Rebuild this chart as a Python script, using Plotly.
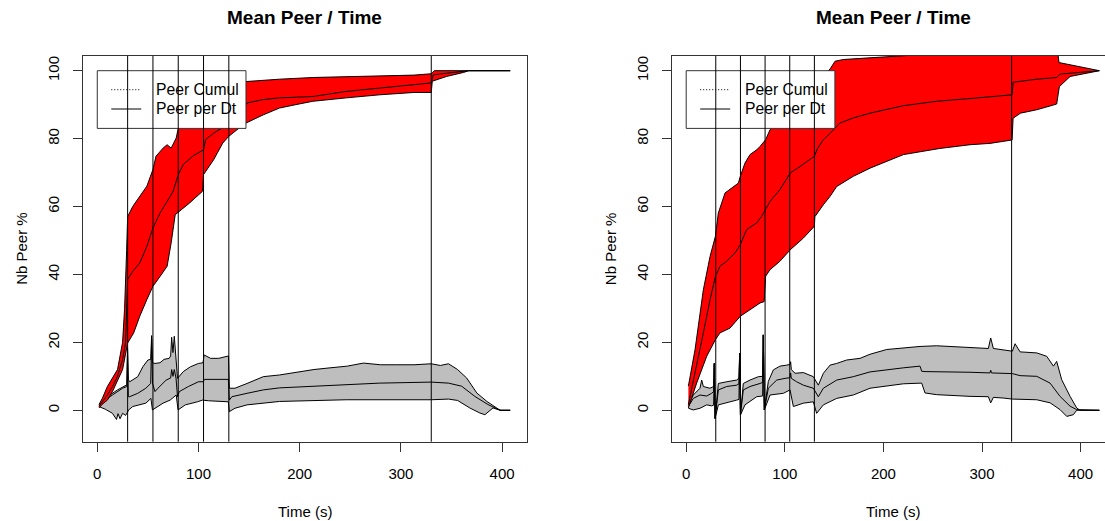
import plotly.graph_objects as go

# ---------------- data ----------------
VLINES = [30, 55, 80, 105, 130, 330]
X_TICKS = [0, 100, 200, 300, 400]
Y_TICKS = [0, 20, 40, 60, 80, 100]
LEGEND_LABELS = ["Peer Cumul", "Peer per Dt"]
TITLE = "Mean Peer / Time"
X_TITLE = "Time (s)"
Y_TITLE = "Nb Peer %"

# Left panel - cumulative (red band)
L_RED_UP_X = [1.7, 5, 10, 15, 20, 25, 27, 29, 30, 35, 42, 49, 55, 58, 65, 69, 73, 78, 80, 90,
              100, 110, 120, 130, 140, 147, 164, 180, 213, 246, 279, 313, 330, 333, 367, 408]
L_RED_UP_Y = [1.7, 3.5, 7, 9.5, 12, 20, 30, 47, 57, 60, 63, 66, 70.9, 74.8, 77.2, 78.2, 77.2, 80.2, 83, 86,
              88.5, 90.5, 92.5, 94, 95.5, 96.8, 97.2, 97.5, 98, 98.3, 98.5, 98.7, 99.1, 100, 100, 100]
L_RED_MID_X = [1.7, 5, 10, 15, 20, 25, 28, 30, 35, 42, 49, 55, 62, 69, 75, 80, 85, 95, 105, 107,
               115, 130, 138, 148, 164, 180, 213, 246, 279, 313, 330, 332, 345, 367, 408]
L_RED_MID_Y = [1.2, 2.5, 4.5, 7, 10, 15, 20, 38.5, 40.9, 43.4, 48.3, 53.7, 58.1, 61.5, 64.5, 69.4, 72.4, 75, 76.7, 79.7,
               81.6, 84.4, 86.6, 90.5, 91.5, 92, 92.4, 93.9, 94.9, 95.9, 96.4, 98.8, 99.3, 100, 100]
L_RED_LO_X = [1.7, 5, 10, 15, 20, 25, 30, 36, 42, 49, 55, 62, 69, 73, 77, 80, 91, 104, 105, 115,
              124, 130, 138, 147, 164, 180, 196, 213, 246, 279, 313, 330, 331, 345, 362, 367, 408]
L_RED_LO_Y = [0.7, 1.8, 3, 5.5, 8.5, 12, 19.8, 22.8, 27.7, 32.6, 36.5, 39.4, 42.4, 49.3, 57.6, 58.1, 61, 64.5, 69.4, 73.8,
              78.7, 80.7, 82.6, 84.6, 87, 89, 90, 91, 92, 92.9, 93.6, 93.6, 96.9, 98.3, 99.5, 100, 100]

# Left panel - per Dt (grey band)
L_GREY_UP_X = [1.7, 10, 20, 27, 29.2, 29.9, 30.7, 32, 40, 45, 50, 52.8, 53.7, 54.6, 57, 62, 66, 71, 72.5, 73.5,
               74.8, 76.1, 77.8, 79.3, 85, 92, 100, 104.5, 105.5, 112, 120, 128, 129.7, 130.5, 136, 148, 164, 180, 197, 214,
               230, 247, 263, 280, 296, 313, 330, 339, 347, 356, 365, 375, 385, 391, 398, 408]
L_GREY_UP_Y = [1.5, 4, 6, 7, 7.5, 18.4, 9, 8.4, 9.9, 12.8, 14.8, 15, 22, 14, 13.8, 14, 15, 15.3, 16, 21.5,
               17, 21.8, 14, 9.4, 11.4, 12.8, 13.8, 14, 16.3, 15.3, 15.3, 16, 16, 6.5, 6.5, 7.9, 9.9, 10.4, 11.2, 12,
               12.5, 13, 13.9, 13.4, 13.4, 13.4, 13.7, 13.2, 13.7, 12, 9.5, 5.1, 2.6, 1.5, 0, 0]
L_GREY_MID_X = [1.7, 5, 15, 25, 29.2, 29.9, 30.7, 32, 40, 48, 52.8, 53.7, 54.6, 57, 60, 68, 72.5, 73.5, 74.8, 76.1,
                77.8, 79.3, 81, 90, 100, 104.5, 106, 115, 129.5, 130.5, 133, 148, 164, 180, 213, 246, 279, 313, 330, 347,
                360, 373, 386, 395, 399, 408]
L_GREY_MID_Y = [1.2, 2.5, 4.5, 6.5, 7, 18, 4, 4, 5, 6.5, 7.9, 21, 8, 5.5, 6.5, 8.9, 9.5, 12, 10, 12,
                9.5, 4, 5.5, 7, 8.4, 8.4, 9.1, 9.1, 9.1, 3, 4, 5, 6, 6.6, 7.1, 7.6, 8.0, 8.2, 8.3, 8.0,
                7.1, 4.1, 1.7, 0.4, 0, 0]
L_GREY_LO_X = [1.7, 8, 15, 19, 20.5, 22.5, 25, 28, 30, 31, 35, 48, 53, 54.5, 56, 65, 72, 78, 79.8, 87,
               99, 104, 110, 120, 129.5, 130.5, 136, 148, 180, 246, 330, 347, 356, 368, 378, 383, 391, 398, 408]
L_GREY_LO_Y = [1.1, 0.3, -0.9, -2.7, -1, -2.5, -0.9, -1.5, -0.5, 0.1, 1.1, 2.1, 3.5, 0.1, 0.6, 2.1, 3, 4.5, 0.1, 1.6,
               2.5, 3, 2.8, 2.6, 2.5, -0.4, 0.6, 1.6, 2.6, 3.1, 3.1, 3.3, 2.9, 0.7, -0.8, -1.3, 0.7, 0, 0]

# Right panel - cumulative (red band)
R_RED_UP_X = [2.2, 9, 17.4, 24.2, 29.6, 32.6, 39.4, 44.4, 52.9, 54.9, 59.6, 64.7, 71.5, 74.9, 80.6, 85, 102, 118.8, 135.7, 145.9,
              151, 159.4, 186.4, 220.3, 254, 377, 378, 419]
R_RED_UP_Y = [7.1, 17.9, 35.5, 45.3, 51.2, 58.1, 64, 65, 66.9, 68.9, 72.8, 75.3, 76.7, 77.7, 79.7, 82.6, 88, 93, 97.5, 100.5,
              102.8, 103.3, 103.8, 104.3, 105, 105, 102.4, 100]
R_RED_MID_X = [2.2, 10.6, 17.4, 24.2, 29.6, 34.3, 41, 49.5, 54.9, 61.3, 71.5, 76.5, 80.6, 85, 95.1, 105.6, 115.4, 130, 133, 139.1,
               145.9, 156, 169.5, 186.4, 220.3, 254, 287.8, 308, 330.5, 331.5, 355.5, 375.7, 379, 419]
R_RED_MID_Y = [1.7, 13, 22.8, 32.6, 39.4, 42.4, 43.9, 46.3, 48.8, 53.2, 55.2, 57.1, 59.1, 61.5, 65, 69.9, 71.8, 74.8, 77, 79.7,
               81.6, 84.6, 86.1, 87.5, 89.7, 91, 91.8, 92.4, 92.9, 96.6, 97.5, 98, 99, 100]
R_RED_LO_X = [2.2, 10.6, 20.8, 29.6, 34.3, 44.4, 54.9, 64.7, 74.9, 79, 80.6, 85, 95.1, 105.6, 118.8, 130, 130.5, 139, 145.9, 152.6,
              169.5, 186.4, 203.3, 220.3, 257, 287.8, 308, 330.5, 331.5, 339, 355.5, 372.4, 375.7, 378.4, 389.3, 419]
R_RED_LO_Y = [0.7, 8, 15.9, 20.8, 22.8, 24.2, 27.7, 29.6, 31.6, 32, 39.5, 41.4, 43.9, 47.3, 50.7, 54.2, 57, 60.5, 63, 65.9,
              68.9, 71.3, 73.3, 75.3, 77.1, 78.2, 78.6, 79.6, 86, 87.5, 88.5, 89.9, 90.2, 95.3, 98.3, 100]

# Right panel - per Dt (grey band)
R_GREY_UP_X = [2.2, 7.2, 14, 15.7, 17.4, 24.1, 27.8, 28.5, 29.3, 32.6, 41, 51.2, 53.5, 54.2, 55, 57.9, 64.7, 73.2, 77.5, 78.2,
               79.2, 83.3, 88.4, 95.1, 101.9, 105.3, 105.9, 106.6, 110.4, 118.8, 128.9, 134, 139.1, 145.9, 152.6, 162.7, 176.3, 186.4, 203.3, 220.2,
               237.1, 254, 287.8, 306.4, 308.8, 311.5, 330.8, 333.5, 338.6, 355.5, 365.6, 372.4, 375.7, 380.8, 389.3, 396, 399.4, 419]
R_GREY_UP_Y = [1.5, 4.5, 6.5, 8.9, 7, 6.5, 7, 13.8, -2.4, 7.9, 8.4, 8.9, 9.5, 16.8, -1.4, 7.9, 8.9, 9.9, 10, 22.2,
               0.1, 8.5, 11.9, 13, 13.3, 13.5, 14.3, 12, 10.9, 11.1, 9.9, 7.4, 10.9, 13.3, 13.8, 14.8, 15.3, 16.5, 17.9, 18.4,
               18.8, 19, 18.4, 18.2, 21.3, 18.2, 17.4, 19.6, 17.2, 16.9, 15.9, 13, 14.4, 9, 4.1, 0.7, 0, 0]
R_GREY_MID_X = [2.2, 7.2, 14, 20.8, 25.8, 27.8, 28.5, 29.3, 32.6, 41, 51.2, 53.5, 54.2, 55, 57.9, 64.7, 74.9, 77.5, 78.2, 79.2,
                83.3, 91.8, 100.2, 105.3, 105.9, 106.6, 112, 118.8, 128.9, 134, 139.1, 152.6, 169.5, 186.4, 220.2, 237.1, 238.8, 242.2, 287.8, 308,
                308.8, 309.6, 330.8, 338.6, 355.5, 369, 379.1, 389.3, 396, 419]
R_GREY_MID_Y = [1.1, 3.5, 4.5, 4.2, 5, 5.5, 13.8, -2.4, 6, 7, 7.4, 7.8, 16.8, -1.4, 6, 7, 7.9, 8.2, 22.2, 0.1,
                6.5, 8.9, 9.4, 9.6, 11, 9.4, 8.4, 7.4, 6.5, 4, 6.5, 8.9, 9.9, 11.3, 12.5, 13, 11.5, 11.4, 11.2, 11,
                11.8, 11, 10.8, 10.2, 10, 8, 4.1, 1.2, 0.2, 0]
R_GREY_LO_X = [2.2, 7.2, 14, 20.8, 25.8, 27.8, 28.5, 29.3, 32.6, 41, 51.2, 53.5, 54.2, 55, 59.6, 71.5, 77.5, 78.2, 79.2, 85,
               98.5, 105.3, 108.7, 118.8, 128.9, 132.3, 139.1, 152.6, 169.5, 186.4, 220.2, 238.8, 242.2, 254, 287.8, 306.4, 308.8, 311.5, 321.6, 330.8,
               355.5, 369, 379.1, 385.9, 392.6, 396, 419]
R_GREY_LO_Y = [0.6, 0.1, 0.6, 1.6, 1.3, 1.5, 13.8, -2.4, 1.6, 2.2, 3, 3.2, 16.8, -1.4, 1.6, 4, 4.2, 22.2, 0.1, 4.5,
               5, 6, 1.1, 2.1, 2.5, -0.9, 1.6, 3.5, 4.5, 6.5, 7.8, 8, 5.1, 4.6, 4.1, 4, 2.2, 3.8, 3.6, 3.3,
               3.1, 2.2, 0.2, -1.8, -1.3, 0, 0]

# ---------------- figure ----------------
W, H = 1105, 521
FONT = "Liberation Sans, Arial, Helvetica, sans-serif"
RED = "#FF0000"
GREY = "#BEBEBE"
AXC = "#333333"

fig = go.Figure()


def add_band(xa, ya, ux, uy, lx, ly, color):
    fig.add_trace(go.Scatter(
        x=list(ux) + list(lx)[::-1], y=list(uy) + list(ly)[::-1],
        mode="lines", fill="toself", fillcolor=color,
        line=dict(color="black", width=1), xaxis=xa, yaxis=ya,
        hoverinfo="skip", showlegend=False))


def add_line(xa, ya, x, y):
    fig.add_trace(go.Scatter(
        x=x, y=y, mode="lines", line=dict(color="black", width=1),
        xaxis=xa, yaxis=ya, hoverinfo="skip", showlegend=False))


panels = [
    ("x", "y", (L_GREY_UP_X, L_GREY_UP_Y, L_GREY_MID_X, L_GREY_MID_Y, L_GREY_LO_X, L_GREY_LO_Y),
     (L_RED_UP_X, L_RED_UP_Y, L_RED_MID_X, L_RED_MID_Y, L_RED_LO_X, L_RED_LO_Y)),
    ("x2", "y2", (R_GREY_UP_X, R_GREY_UP_Y, R_GREY_MID_X, R_GREY_MID_Y, R_GREY_LO_X, R_GREY_LO_Y),
     (R_RED_UP_X, R_RED_UP_Y, R_RED_MID_X, R_RED_MID_Y, R_RED_LO_X, R_RED_LO_Y)),
]

for xa, ya, grey, red in panels:
    gux, guy, gmx, gmy, glx, gly = grey
    rux, ruy, rmx, rmy, rlx, rly = red
    add_band(xa, ya, gux, guy, glx, gly, GREY)
    add_line(xa, ya, gmx, gmy)
    add_band(xa, ya, rux, ruy, rlx, rly, RED)
    add_line(xa, ya, rmx, rmy)

# geometry (pixels in the 1105x521 page)
PLOT_TOP, PLOT_BOTTOM = 56, 441.7
L_LEFT, L_RIGHT = 82.7, 526.7
R_LEFT, R_RIGHT = 672, 1105
Y_DOM = [(H - PLOT_BOTTOM) / H, (H - PLOT_TOP) / H]
Y_RANGE = [-9.25, 104.33]

tickfont = dict(family=FONT, size=15, color="black")
common_x = dict(tickmode="array", tickvals=X_TICKS, ticks="outside", ticklen=9, tickcolor=AXC,
                showline=True, linecolor=AXC, linewidth=1, showgrid=False, zeroline=False,
                tickfont=tickfont, ticklabelstandoff=9)
common_y = dict(tickmode="array", tickvals=Y_TICKS, ticks="outside", ticklen=9, tickcolor=AXC,
                showline=True, linecolor=AXC, linewidth=1, showgrid=False, zeroline=False,
                tickfont=tickfont, tickangle=-90, ticklabelstandoff=8, range=Y_RANGE, domain=Y_DOM)

fig.update_layout(
    width=W, height=H, margin=dict(l=0, r=0, t=0, b=0, pad=0),
    paper_bgcolor="white", plot_bgcolor="white", showlegend=False,
    xaxis=dict(domain=[L_LEFT / W, L_RIGHT / W], range=[-14.4, 424.3], anchor="y", mirror=True, **common_x),
    yaxis=dict(anchor="x", mirror=True, **common_y),
    xaxis2=dict(domain=[R_LEFT / W, 1.0], range=[-14.4, 424.7], anchor="y2", mirror=True, **common_x),
    yaxis2=dict(anchor="x2", mirror=False, **common_y),
)

shapes = []
annotations = []
for xa, ya, left, right, title_cx in [("x", "y", L_LEFT, L_RIGHT, (L_LEFT + L_RIGHT) / 2),
                                      ("x2", "y2", R_LEFT, R_RIGHT, 893)]:
    # legend box anchored at (0, 100) in data coordinates
    shapes.append(dict(type="rect", xref=xa, yref=ya, xsizemode="pixel", ysizemode="pixel",
                       xanchor=0, yanchor=100, x0=0, x1=148.7, y0=0, y1=-57.7,
                       fillcolor="white", line=dict(color=AXC, width=1), layer="above"))
    for i, dash in enumerate(["1px,2px", "solid"]):
        yy = -19 - 19.3 * i
        shapes.append(dict(type="line", xref=xa, yref=ya, xsizemode="pixel", ysizemode="pixel",
                           xanchor=0, yanchor=100, x0=14, x1=44, y0=yy, y1=yy,
                           line=dict(color="black", width=1, dash=dash), layer="above"))
        annotations.append(dict(text=LEGEND_LABELS[i], xref=xa, yref=ya, x=0, y=100,
                                xanchor="left", yanchor="middle", xshift=57, yshift=yy,
                                showarrow=False, font=dict(family=FONT, size=15.7, color="black")))
    for v in VLINES:
        shapes.append(dict(type="line", xref=xa, yref=ya + " domain", x0=v, x1=v, y0=0, y1=1,
                           line=dict(color="black", width=1), layer="above"))
    annotations.append(dict(text="<b>" + TITLE + "</b>", xref="paper", yref="paper",
                            x=title_cx / W, y=(H - 18) / H, xanchor="center", yanchor="middle",
                            showarrow=False, font=dict(family=FONT, size=19, color="black")))
    annotations.append(dict(text=X_TITLE, xref="paper", yref="paper",
                            x=title_cx / W, y=(H - 511) / H, xanchor="center", yanchor="middle",
                            showarrow=False, font=dict(family=FONT, size=15, color="black")))
    annotations.append(dict(text=Y_TITLE, xref="paper", yref="paper", textangle=-90,
                            x=(left - 60.7) / W, y=(H - (PLOT_TOP + PLOT_BOTTOM) / 2) / H,
                            xanchor="center", yanchor="middle",
                            showarrow=False, font=dict(family=FONT, size=15, color="black")))

fig.update_layout(shapes=shapes, annotations=annotations)
fig.write_html("out.html", config={"displayModeBar": False},
               post_script="document.body.style.margin='0px';document.body.style.overflow='hidden';")
